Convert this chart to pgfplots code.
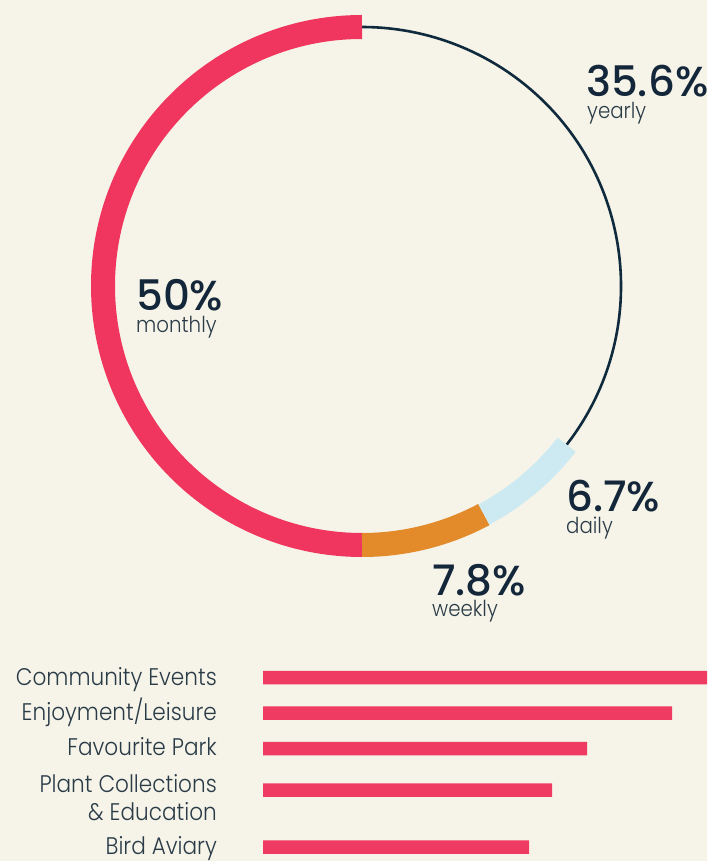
\documentclass[border=0pt]{standalone}
\usepackage{pgfplots}
\pgfplotsset{compat=1.18}
\usepackage{fontspec}
\setmainfont{Poppins}
\newfontfamily\numfont{Poppins Medium}
\newfontfamily\lblfont{Poppins Light}[FakeStretch=0.9]
\definecolor{bgc}{HTML}{F6F4E8}
\definecolor{pinkc}{HTML}{F0365F}
\definecolor{orangec}{HTML}{E38A2B}
\definecolor{bluec}{HTML}{CDEAF2}
\definecolor{navyc}{HTML}{0F2A3C}
\definecolor{numc}{HTML}{13263A}
\definecolor{lblc}{HTML}{2A3B48}
\definecolor{barc}{HTML}{EF3A62}
\begin{document}
\begin{tikzpicture}[x=1pt,y=1pt]
\fill[bgc, use as bounding box] (0,0) rectangle (707,-861);
% shares (percent)
\def\monthly{50}\def\weekly{7.8}\def\daily{6.7}\def\yearly{35.6}
\pgfmathsetmacro\aA{90}
\pgfmathsetmacro\aB{\aA+\monthly*3.6}
\pgfmathsetmacro\aC{\aB+\weekly*3.6}
\pgfmathsetmacro\aD{\aC+\daily*3.6}
\pgfmathsetmacro\aE{\aD+\yearly*3.6}
\begin{axis}[at={(0,0)}, anchor=north west, width=707pt, height=600pt,
  scale only axis, xmin=-362, xmax=345, ymin=-314, ymax=286,
  hide axis, clip=false]
  \draw[navyc, line width=2.6pt] (axis cs:{259*cos(\aD)},{259*sin(\aD)}) arc[start angle=\aD, end angle=\aE, radius=259];
  \draw[pinkc, line width=24pt] (axis cs:0,259) arc[start angle=\aA, end angle=\aB, radius=259];
  \draw[orangec, line width=24pt] (axis cs:{259*cos(\aB)},{259*sin(\aB)}) arc[start angle=\aB, end angle=\aC, radius=259];
  \draw[bluec, line width=23pt] (axis cs:{259*cos(\aC)},{259*sin(\aC)}) arc[start angle=\aC, end angle=\aD, radius=259];
  \node[anchor=base west, inner sep=0, text=numc, font=\numfont\fontsize{42}{42}\selectfont] at (axis cs:224,189) {35.6\%};
  \node[anchor=base west, inner sep=0, text=lblc, font=\lblfont\fontsize{22}{22}\selectfont] at (axis cs:225,167) {yearly};
  \node[anchor=base west, inner sep=0, text=numc, font=\numfont\fontsize{42}{42}\selectfont] at (axis cs:-226,-24) {50\%};
  \node[anchor=base west, inner sep=0, text=lblc, font=\lblfont\fontsize{22}{22}\selectfont] at (axis cs:-226,-46) {monthly};
  \node[anchor=base west, inner sep=0, text=numc, font=\numfont\fontsize{42}{42}\selectfont] at (axis cs:204,-225) {6.7\%};
  \node[anchor=base west, inner sep=0, text=lblc, font=\lblfont\fontsize{22}{22}\selectfont] at (axis cs:204,-247) {daily};
  \node[anchor=base west, inner sep=0, text=numc, font=\numfont\fontsize{42}{42}\selectfont] at (axis cs:70,-309) {7.8\%};
  \node[anchor=base west, inner sep=0, text=lblc, font=\lblfont\fontsize{22}{22}\selectfont] at (axis cs:70,-330) {weekly};
\end{axis}
\begin{axis}[at={(263,-861)}, anchor=south west, width=444pt, height=206pt,
  scale only axis, xmin=0, xmax=444, ymin=-861, ymax=-655,
  axis line style={draw=none}, major tick length=0pt, xtick=\empty,
  ytick={-685,-720,-755,-792,-820,-854},
  yticklabels={Community Events,Enjoyment/Leisure,Favourite Park,Plant Collections,\& Education,Bird Aviary},
  yticklabel style={anchor=base east, inner sep=0pt, xshift=-46pt, text=lblc, font=\lblfont\fontsize{24}{24}\selectfont},
  clip=true]
  \addplot[xbar, bar width=13.5pt, fill=barc, draw=none] coordinates {(450,-677.5) (409,-713) (324,-748.5) (289,-790) (266,-847)};
\end{axis}
\end{tikzpicture}
\end{document}
